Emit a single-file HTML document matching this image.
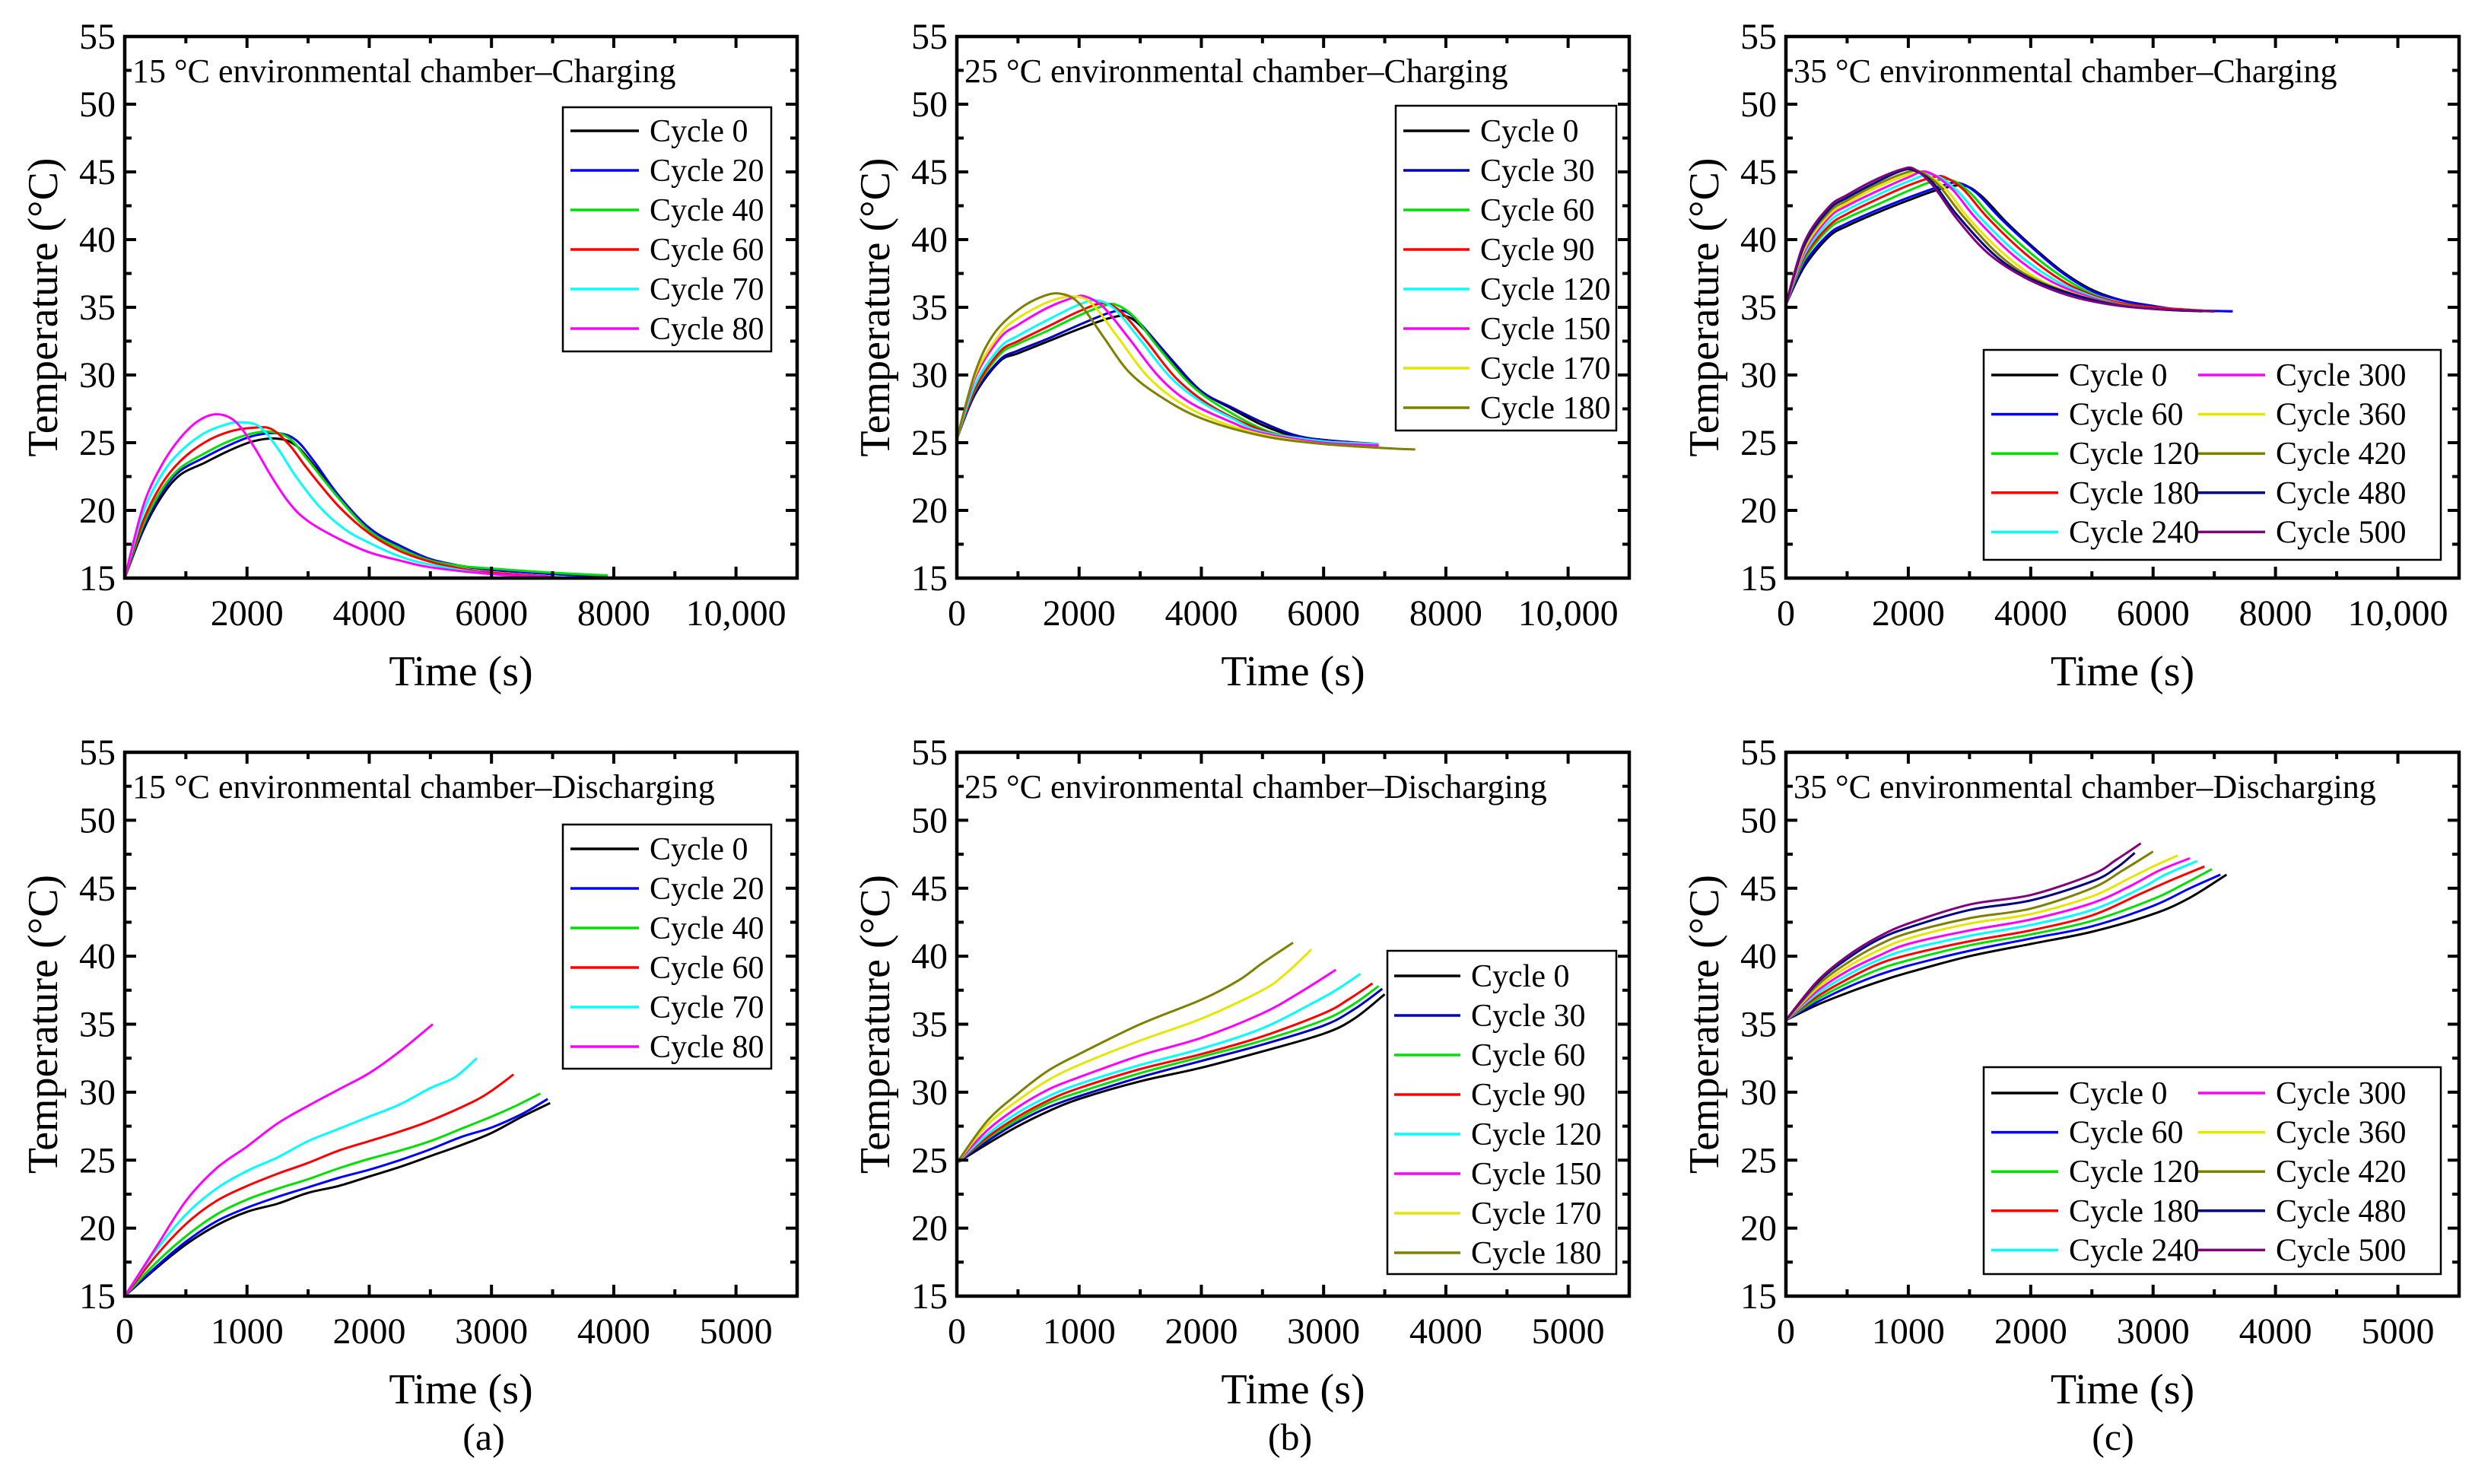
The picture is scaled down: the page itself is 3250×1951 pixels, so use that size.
<!DOCTYPE html>
<html><head><meta charset="utf-8">
<style>
html,body{margin:0;padding:0;background:#fff;}
svg{display:block;font-family:"Liberation Serif","Times New Roman",serif;}
</style></head>
<body>
<svg id="fig" width="3250" height="1951" viewBox="0 0 3250 1951" xmlns="http://www.w3.org/2000/svg"></svg>
<script>
// ---------- data ----------
const yTicks = [15,20,25,30,35,40,45,50,55];
const xTicksChg = [0,2000,4000,6000,8000,10000];
const xTickLabelsChg = ["0","2000","4000","6000","8000","10,000"];
const xTicksDis = [0,1000,2000,3000,4000,5000];
const xTickLabelsDis = ["0","1000","2000","3000","4000","5000"];

const aLabels = ["Cycle 0","Cycle 20","Cycle 40","Cycle 60","Cycle 70","Cycle 80"];
const bLabels = ["Cycle 0","Cycle 30","Cycle 60","Cycle 90","Cycle 120","Cycle 150","Cycle 170","Cycle 180"];
const cLabels = ["Cycle 0","Cycle 60","Cycle 120","Cycle 180","Cycle 240","Cycle 300","Cycle 360","Cycle 420","Cycle 480","Cycle 500"];

const aColors = ["#000000","#0000ff","#00e000","#ff0000","#00ffff","#ff00ff"];
const bColors = ["#000000","#0000c0","#00e000","#ff0000","#00ffff","#ff00ff","#e6e600","#808000"];
const cColors = ["#000000","#0000ff","#00e000","#ff0000","#00ffff","#ff00ff","#e6e600","#808000","#000080","#800080"];

const aCharge = [
 [[0,15],[300,18.5],[600,21],[900,22.6],[1300,23.5],[1700,24.4],[2100,25.1],[2500,25.3],[2800,24.8],[3100,23.3],[3500,21],[4000,18.6],[4500,17.4],[5000,16.4],[5500,15.9],[6000,15.6],[7000,15.3],[7900,15.1]],
 [[0,15],[300,18.7],[600,21.3],[900,22.9],[1300,23.9],[1700,24.8],[2100,25.5],[2500,25.7],[2800,25.2],[3100,23.6],[3500,21.1],[4000,18.7],[4500,17.4],[5000,16.4],[5500,15.9],[6000,15.6],[7000,15.3],[7900,15.1]],
 [[0,15],[300,18.9],[600,21.5],[900,23.1],[1300,24.2],[1700,25.1],[2100,25.7],[2400,25.8],[2700,25.3],[3000,23.7],[3500,20.9],[4000,18.5],[4500,17.2],[5000,16.3],[5500,15.9],[6000,15.7],[7000,15.4],[7900,15.2]],
 [[0,15],[300,19.2],[600,21.9],[900,23.6],[1300,25],[1700,25.8],[2100,26.1],[2400,26],[2700,24.8],[3000,23],[3500,20.3],[4000,18.3],[4500,17],[5000,16.2],[5500,15.7],[6000,15.4],[7000,15.1]],
 [[0,15],[300,19.8],[600,22.6],[900,24.3],[1300,25.7],[1700,26.4],[1900,26.5],[2200,26.2],[2500,24.6],[2800,22.5],[3200,20.2],[3600,18.6],[4000,17.6],[4500,16.6],[5000,16],[6000,15.3],[7500,15]],
 [[0,15],[300,20.3],[600,23.3],[900,25.3],[1200,26.6],[1500,27.1],[1800,26.6],[2100,24.8],[2400,22.5],[2700,20.5],[3000,19.2],[3500,17.9],[4000,16.9],[4500,16.3],[5000,15.8],[6000,15.3],[7000,15.1]]
];
const aDischarge = [
 [[0,15],[250,17],[500,18.8],[750,20.2],[1000,21.2],[1250,21.8],[1500,22.6],[1750,23.1],[2000,23.8],[2250,24.5],[2500,25.3],[2750,26.1],[3000,27],[3250,28.2],[3480,29.2]],
 [[0,15],[250,17.1],[500,19],[750,20.5],[1000,21.5],[1250,22.3],[1500,23],[1750,23.7],[2000,24.3],[2250,25],[2500,25.8],[2750,26.7],[3000,27.4],[3250,28.4],[3460,29.5]],
 [[0,15],[250,17.4],[500,19.4],[750,21],[1000,22.1],[1250,22.9],[1500,23.6],[1750,24.4],[2000,25.1],[2250,25.7],[2500,26.4],[2750,27.3],[3000,28.2],[3200,29],[3400,29.9]],
 [[0,15],[250,17.9],[500,20.3],[750,22],[1000,23.1],[1250,24],[1500,24.8],[1750,25.7],[2000,26.4],[2250,27.1],[2500,27.9],[2850,29.3],[3000,30.1],[3180,31.3]],
 [[0,15],[250,18.3],[500,21],[750,22.9],[1000,24.2],[1250,25.2],[1500,26.4],[1750,27.3],[2000,28.2],[2250,29.1],[2500,30.3],[2700,31.1],[2880,32.5]],
 [[0,15],[250,18.5],[500,22],[750,24.4],[1000,26],[1250,27.7],[1500,29],[1750,30.2],[2000,31.4],[2250,33],[2520,35]]
];
const bCharge = [
 [[0,25.3],[300,28.6],[700,31],[1000,31.6],[1500,32.5],[2000,33.4],[2500,34.2],[2800,34.3],[3100,33.2],[3500,31],[4000,28.8],[4500,27.5],[5000,26.3],[5500,25.5],[6000,25.2],[6900,24.8]],
 [[0,25.3],[300,28.7],[700,31.1],[1000,31.8],[1500,32.7],[2000,33.7],[2500,34.6],[2750,34.7],[3000,33.8],[3500,31.2],[4000,28.8],[4500,27.6],[5000,26.5],[5500,25.6],[6000,25.2],[6900,24.9]],
 [[0,25.3],[300,28.9],[700,31.5],[1000,32.3],[1500,33.3],[2000,34.4],[2400,35.1],[2600,35.2],[2900,34.3],[3300,32],[3800,29.4],[4300,27.7],[5000,26],[5500,25.4],[6000,25.1],[6900,24.9]],
 [[0,25.3],[300,29],[700,31.7],[1000,32.5],[1500,33.6],[2000,34.7],[2400,35.3],[2700,34.6],[3100,32.5],[3600,29.7],[4200,27.6],[5000,25.9],[5500,25.4],[6000,25.1],[6900,24.9]],
 [[0,25.3],[300,29.3],[700,32],[1000,32.9],[1500,34.1],[2000,35.2],[2300,35.5],[2600,34.8],[3000,32.6],[3500,29.8],[4000,28],[4500,26.8],[5000,25.8],[6000,25.1],[6900,24.9]],
 [[0,25.3],[300,29.8],[700,32.7],[1000,33.7],[1500,35],[1900,35.7],[2100,35.8],[2400,35],[2800,32.8],[3300,29.9],[3800,28],[4500,26.5],[5000,25.7],[6000,25],[6900,24.8]],
 [[0,25.3],[300,30],[700,33],[1000,34.2],[1500,35.4],[1900,35.8],[2200,35.3],[2600,33],[3100,30],[3600,28.1],[4200,26.7],[5000,25.6],[6000,24.9],[7000,24.6]],
 [[0,25.3],[300,30.2],[600,33],[1000,34.8],[1400,35.8],[1700,36],[2000,35.3],[2400,32.8],[2800,30.3],[3300,28.5],[4000,26.8],[5000,25.5],[6000,24.9],[7000,24.6],[7500,24.5]]
];
const bDischarge = [
 [[0,24.8],[250,26.2],[500,27.5],[750,28.6],[1000,29.5],[1500,30.8],[2000,31.8],[2500,33],[3000,34.3],[3250,35.4],[3500,37.2]],
 [[0,24.8],[250,26.4],[500,27.8],[750,28.9],[1000,29.7],[1500,31.1],[2000,32.3],[2500,33.5],[3000,34.9],[3250,36.1],[3480,37.6]],
 [[0,24.8],[250,26.6],[500,28],[750,29.2],[1000,30],[1500,31.4],[2000,32.6],[2500,33.8],[3000,35.3],[3250,36.5],[3450,37.8]],
 [[0,24.8],[250,26.7],[500,28.2],[750,29.4],[1000,30.3],[1500,31.7],[2000,32.8],[2500,34.1],[3000,35.8],[3200,36.8],[3400,38]],
 [[0,24.8],[250,26.9],[500,28.5],[750,29.7],[1000,30.6],[1500,32],[2000,33.2],[2500,34.7],[2900,36.5],[3100,37.5],[3300,38.7]],
 [[0,24.8],[250,27.2],[500,28.9],[750,30.2],[1000,31.1],[1500,32.7],[2000,34],[2500,35.8],[2800,37.3],[3100,39]],
 [[0,24.8],[250,27.6],[500,29.4],[750,30.9],[1000,32],[1500,33.8],[2000,35.4],[2500,37.5],[2700,38.8],[2900,40.5]],
 [[0,24.8],[250,27.9],[500,29.9],[750,31.6],[1000,32.8],[1500,35],[2000,36.8],[2300,38.2],[2500,39.5],[2750,41]]
];
const cCharge = [
 [[0,35.2],[300,38],[700,40.2],[1000,41],[1500,42],[2000,42.9],[2500,43.7],[2900,44],[3200,43.2],[3600,41.3],[4000,39.6],[4500,37.7],[5000,36.3],[5500,35.5],[6000,35.1],[6500,34.8],[7300,34.7]],
 [[0,35.2],[300,38.2],[700,40.4],[1000,41.2],[1500,42.2],[2000,43.1],[2500,43.9],[2800,44.2],[3100,43.5],[3500,41.6],[4000,39.5],[4500,37.6],[5000,36.2],[5500,35.5],[6000,35.1],[6500,34.8],[7300,34.7]],
 [[0,35.2],[300,38.5],[700,40.8],[1000,41.6],[1500,42.6],[2000,43.6],[2400,44.3],[2700,44.4],[3000,43.5],[3400,41.5],[4000,39],[4500,37.3],[5000,36],[5500,35.3],[6000,35],[7000,34.7]],
 [[0,35.2],[300,38.7],[700,41],[1000,41.9],[1500,43],[2000,44],[2400,44.6],[2600,44.6],[2900,43.7],[3300,41.6],[3900,39],[4500,37],[5000,35.9],[5500,35.3],[6000,35],[7000,34.7]],
 [[0,35.2],[300,38.9],[700,41.3],[1000,42.2],[1500,43.3],[2000,44.3],[2400,44.8],[2800,43.6],[3200,41.5],[3800,38.9],[4400,37],[5000,35.8],[5500,35.2],[6000,34.9],[7000,34.7]],
 [[0,35.2],[300,39.1],[700,41.6],[1000,42.5],[1500,43.6],[2000,44.6],[2300,45],[2700,43.8],[3100,41.6],[3700,38.9],[4300,37],[5000,35.7],[5500,35.2],[6000,34.9],[6800,34.7]],
 [[0,35.2],[300,39.3],[700,41.8],[1000,42.7],[1500,43.9],[2000,44.8],[2200,45],[2600,43.8],[3000,41.5],[3600,38.8],[4200,36.9],[5000,35.6],[5500,35.1],[6000,34.9],[6800,34.7]],
 [[0,35.2],[300,39.5],[700,42],[1000,42.9],[1500,44.1],[2000,45],[2200,45],[2500,44],[2900,41.7],[3500,38.8],[4100,37],[5000,35.6],[6000,34.9],[6800,34.7]],
 [[0,35.2],[300,39.6],[700,42.2],[1000,43.1],[1500,44.3],[1900,45.1],[2100,45.1],[2400,44.2],[2800,41.8],[3400,38.9],[4000,37.1],[4800,35.8],[5500,35.1],[6300,34.8],[7000,34.7]],
 [[0,35.2],[300,39.8],[700,42.4],[1000,43.3],[1500,44.5],[1900,45.2],[2100,45.2],[2400,44],[2800,41.5],[3300,39],[3900,37.2],[4600,35.9],[5300,35.2],[6000,34.9],[7000,34.7]]
];
const cDischarge = [
 [[0,35.3],[250,36.4],[500,37.3],[750,38.1],[1000,38.8],[1500,40],[2000,40.9],[2500,41.8],[3000,43.1],[3300,44.3],[3600,46]],
 [[0,35.3],[250,36.6],[500,37.7],[750,38.6],[1000,39.3],[1500,40.4],[2000,41.3],[2500,42.2],[3000,43.7],[3300,45],[3550,46]],
 [[0,35.3],[250,36.8],[500,38],[750,39],[1000,39.7],[1500,40.8],[2000,41.6],[2500,42.6],[3000,44.2],[3250,45.3],[3480,46.4]],
 [[0,35.3],[250,37],[500,38.3],[750,39.4],[1000,40.1],[1500,41.1],[2000,41.9],[2500,43],[2900,44.6],[3150,45.6],[3420,46.6]],
 [[0,35.3],[250,37.2],[500,38.6],[750,39.7],[1000,40.5],[1500,41.5],[2000,42.3],[2500,43.4],[2900,45],[3100,46],[3360,47]],
 [[0,35.3],[250,37.4],[500,38.9],[750,40],[1000,40.9],[1500,41.9],[2000,42.7],[2500,43.9],[2800,45.1],[3050,46.3],[3300,47.2]],
 [[0,35.3],[250,37.6],[500,39.2],[750,40.4],[1000,41.3],[1500,42.4],[2000,43.1],[2500,44.4],[2800,45.7],[3000,46.6],[3200,47.4]],
 [[0,35.3],[250,37.8],[500,39.5],[750,40.8],[1000,41.7],[1500,42.8],[2000,43.5],[2500,45],[2750,46.3],[3000,47.7]],
 [[0,35.3],[250,38],[500,39.8],[750,41.2],[1000,42.1],[1500,43.4],[2000,44.1],[2500,45.5],[2700,46.5],[2850,47.6]],
 [[0,35.3],[250,38.1],[500,40],[750,41.4],[1000,42.4],[1500,43.8],[2000,44.5],[2500,46],[2700,47.1],[2900,48.3]]
];

// ---------- rendering ----------
const NS = "http://www.w3.org/2000/svg";
const svg = document.getElementById("fig");
function mk(tag, attrs, parent){
  const e = document.createElementNS(NS, tag);
  for (const k in attrs) e.setAttribute(k, attrs[k]);
  (parent||svg).appendChild(e);
  return e;
}
function smoothPath(pts){
  if (pts.length < 2) return "";
  let d = "M" + pts[0][0].toFixed(1) + "," + pts[0][1].toFixed(1);
  for (let i = 0; i < pts.length - 1; i++){
    const p0 = pts[i-1] || pts[i], p1 = pts[i], p2 = pts[i+1], p3 = pts[i+2] || p2;
    const c1x = p1[0] + (p2[0]-p0[0])/6, c1y = p1[1] + (p2[1]-p0[1])/6;
    const c2x = p2[0] - (p3[0]-p1[0])/6, c2y = p2[1] - (p3[1]-p1[1])/6;
    d += " C" + c1x.toFixed(1)+","+c1y.toFixed(1)+" "+c2x.toFixed(1)+","+c2y.toFixed(1)+" "+p2[0].toFixed(1)+","+p2[1].toFixed(1);
  }
  return d;
}

function panel(cfg){
  const g = mk("g", {});
  
  
  const L=cfg.x0, R=cfg.x1, T=cfg.y0, B=cfg.y1;
  const sx = v => L + (v - 0) / (cfg.xmax - 0) * (R - L);
  const sy = v => B - (v - 15) / (55 - 15) * (B - T);

  const sg = mk("g", {fill:"none","stroke-width":"3","stroke-linejoin":"round"}, g);
  cfg.series.forEach((s, i) => {
    const p = mk("path", {d: smoothPath(s.map(q => [sx(q[0]), sy(q[1])])), stroke: cfg.colors[i]}, sg);
    
    
  });

  const tg = mk("g", {stroke:"#000","stroke-width":"4"}, g);
  for (let v = 15; v <= 55.01; v += 2.5){
    const major = Math.abs(v/5 - Math.round(v/5)) < 1e-6;
    const len = major ? 15 : 9;
    mk("line", {x1:L, x2:L+len, y1:sy(v), y2:sy(v)}, tg);
    mk("line", {x1:R, x2:R-len, y1:sy(v), y2:sy(v)}, tg);
  }
  const minorStep = cfg.xTicks[1] / 2;
  for (let v = 0; v <= cfg.xmax + 1e-6; v += minorStep){
    const major = Math.abs((v / cfg.xTicks[1]) - Math.round(v / cfg.xTicks[1])) < 1e-6;
    const len = major ? 15 : 9;
    mk("line", {x1:sx(v), x2:sx(v), y1:B, y2:B-len}, tg);
    mk("line", {x1:sx(v), x2:sx(v), y1:T, y2:T+len}, tg);
  }
  const fr = mk("rect", {x:L, y:T, width:R-L, height:B-T, fill:"none", stroke:"#000", "stroke-width":"4.5"}, g);
  
  

  yTicks.forEach(v => {
    const t = mk("text", {x:L-12, y:sy(v)+16, "text-anchor":"end", "font-size":"48"}, g);
    t.textContent = String(v);
    
    
  });
  cfg.xTicks.forEach((v, i) => {
    const t = mk("text", {x:sx(v), y:B+62, "text-anchor":"middle", "font-size":"48"}, g);
    t.textContent = cfg.xTickLabels[i];
    
    
  });
  const xt = mk("text", {x:(L+R)/2, y:B+141, "text-anchor":"middle", "font-size":"56"}, g);
  xt.textContent = "Time (s)";
  
  
  const cy = (T+B)/2;
  const ax = L - 108;
  const yt = mk("text", {x:ax, y:cy+19, "text-anchor":"middle", "font-size":"56", transform:"rotate(-90 "+ax+" "+cy+")"}, g);
  yt.textContent = "Temperature (°C)";
  
  
  const it = mk("text", {x:L+10, y:T+60, "font-size":"44"}, g);
  it.textContent = cfg.title;
  
  

  const lg = mk("g", {}, g);
  
  
  const lb = cfg.legend;
  mk("rect", {x:lb.x, y:lb.y, width:lb.w, height:lb.h, fill:"#fff", stroke:"#000", "stroke-width":"2.5"}, lg);
  cfg.labels.forEach((lab, i) => {
    const col = Math.floor(i / lb.rows), row = i % lb.rows;
    const lx = lb.lineX[col], ty = lb.firstY + row * lb.step;
    const ln = mk("line", {x1:lx, x2:lx+lb.lineW, y1:ty, y2:ty, stroke:cfg.colors[i], "stroke-width":"3.5"}, lg);
    
    
    const tx = mk("text", {x:lx+lb.lineW+14, y:ty+14, "font-size":"42"}, lg);
    tx.textContent = lab;
    
    
  });
}

const topY0=48, topY1=760, botY0=989, botY1=1704;
const cols=[[164,1048],[1258,2142],[2348,3233]];

panel({name:"chart-15c-charging", x0:cols[0][0], x1:cols[0][1], y0:topY0, y1:topY1, xmax:11000, xTicks:xTicksChg, xTickLabels:xTickLabelsChg,
  series:aCharge, colors:aColors, labels:aLabels, title:"15 °C environmental chamber–Charging",
  legend:{x:740,y:141,w:274,h:321,rows:6,step:52,firstY:172,lineX:[750],lineW:90}});
panel({name:"chart-15c-discharging", x0:cols[0][0], x1:cols[0][1], y0:botY0, y1:botY1, xmax:5500, xTicks:xTicksDis, xTickLabels:xTickLabelsDis,
  series:aDischarge, colors:aColors, labels:aLabels, title:"15 °C environmental chamber–Discharging",
  legend:{x:740,y:1084,w:274,h:321,rows:6,step:52,firstY:1116,lineX:[750],lineW:90}});
panel({name:"chart-25c-charging", x0:cols[1][0], x1:cols[1][1], y0:topY0, y1:topY1, xmax:11000, xTicks:xTicksChg, xTickLabels:xTickLabelsChg,
  series:bCharge, colors:bColors, labels:bLabels, title:"25 °C environmental chamber–Charging",
  legend:{x:1835,y:139,w:290,h:427,rows:8,step:52,firstY:172,lineX:[1845],lineW:87}});
panel({name:"chart-25c-discharging", x0:cols[1][0], x1:cols[1][1], y0:botY0, y1:botY1, xmax:5500, xTicks:xTicksDis, xTickLabels:xTickLabelsDis,
  series:bDischarge, colors:bColors, labels:bLabels, title:"25 °C environmental chamber–Discharging",
  legend:{x:1824,y:1250,w:301,h:425,rows:8,step:52,firstY:1283,lineX:[1833],lineW:87}});
panel({name:"chart-35c-charging", x0:cols[2][0], x1:cols[2][1], y0:topY0, y1:topY1, xmax:11000, xTicks:xTicksChg, xTickLabels:xTickLabelsChg,
  series:cCharge, colors:cColors, labels:cLabels, title:"35 °C environmental chamber–Charging",
  legend:{x:2608,y:460,w:601,h:276,rows:5,step:51.6,firstY:493,lineX:[2618,2890],lineW:88}});
panel({name:"chart-35c-discharging", x0:cols[2][0], x1:cols[2][1], y0:botY0, y1:botY1, xmax:5500, xTicks:xTicksDis, xTickLabels:xTickLabelsDis,
  series:cDischarge, colors:cColors, labels:cLabels, title:"35 °C environmental chamber–Discharging",
  legend:{x:2608,y:1403,w:601,h:272,rows:5,step:51.6,firstY:1437,lineX:[2618,2890],lineW:88}});

[["(a)",636],["(b)",1696],["(c)",2778]].forEach(p => {
  const t = mk("text", {x:p[1], y:1906, "text-anchor":"middle", "font-size":"50"});
  t.textContent = p[0];
  
  
});
</script>
</body></html>
